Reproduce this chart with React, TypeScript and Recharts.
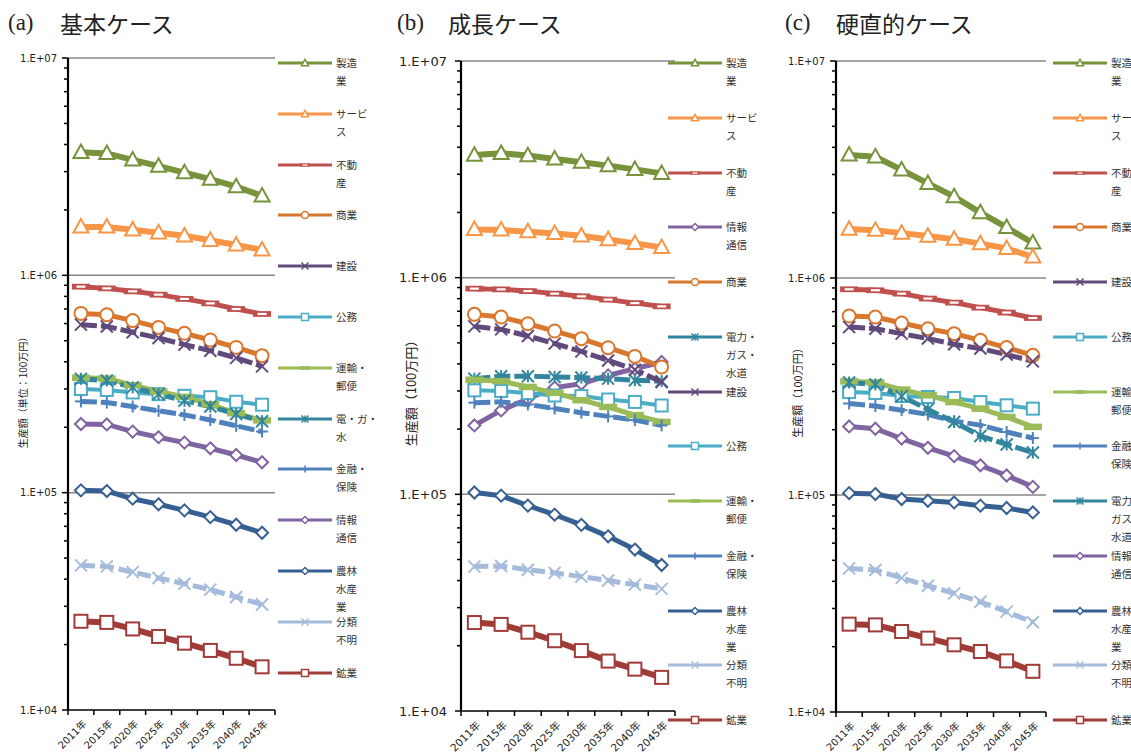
import React from 'react';
import { LineChart, Line, XAxis, YAxis, CartesianGrid } from 'recharts';

const years = ['2011年', '2015年', '2020年', '2025年', '2030年', '2035年', '2040年', '2045年'];

// (a) 基本ケース
const kihonSeizo = [3.68e6, 3.64e6, 3.40e6, 3.18e6, 2.97e6, 2.77e6, 2.56e6, 2.32e6];
const kihonService = [1.67e6, 1.67e6, 1.62e6, 1.57e6, 1.52e6, 1.45e6, 1.38e6, 1.31e6];
const kihonFudosan = [8.87e5, 8.71e5, 8.44e5, 8.15e5, 7.79e5, 7.43e5, 7.0e5, 6.64e5];
const kihonShogyo = [6.68e5, 6.59e5, 6.19e5, 5.76e5, 5.41e5, 5.04e5, 4.66e5, 4.27e5];
const kihonKensetsu = [5.93e5, 5.82e5, 5.47e5, 5.15e5, 4.8e5, 4.5e5, 4.17e5, 3.81e5];
const kihonKomu = [3.0e5, 2.97e5, 2.89e5, 2.84e5, 2.79e5, 2.75e5, 2.62e5, 2.54e5];
const kihonUnyu = [3.38e5, 3.35e5, 3.12e5, 2.92e5, 2.76e5, 2.55e5, 2.32e5, 2.15e5];
const kihonDenki = [3.34e5, 3.28e5, 3.05e5, 2.84e5, 2.65e5, 2.49e5, 2.3e5, 2.13e5];
const kihonKinyu = [2.63e5, 2.6e5, 2.49e5, 2.38e5, 2.28e5, 2.16e5, 2.03e5, 1.91e5];
const kihonJoho = [2.07e5, 2.06e5, 1.91e5, 1.8e5, 1.7e5, 1.6e5, 1.49e5, 1.38e5];
const kihonNorin = [1.025e5, 1.017e5, 9.38e4, 8.84e4, 8.29e4, 7.72e4, 7.12e4, 6.54e4];
const kihonFumei = [4.63e4, 4.58e4, 4.31e4, 4.05e4, 3.81e4, 3.58e4, 3.31e4, 3.06e4];
const kihonKogyo = [2.56e4, 2.53e4, 2.36e4, 2.18e4, 2.03e4, 1.88e4, 1.73e4, 1.58e4];

// (b) 成長ケース
const seichoSeizo = [3.68e6, 3.75e6, 3.66e6, 3.53e6, 3.41e6, 3.29e6, 3.16e6, 3.03e6];
const seichoService = [1.67e6, 1.66e6, 1.63e6, 1.6e6, 1.56e6, 1.5e6, 1.44e6, 1.38e6];
const seichoFudosan = [8.9e5, 8.83e5, 8.67e5, 8.44e5, 8.2e5, 7.92e5, 7.63e5, 7.37e5];
const seichoJoho = [2.08e5, 2.44e5, 2.76e5, 3.11e5, 3.24e5, 3.54e5, 3.8e5, 4.08e5];
const seichoShogyo = [6.77e5, 6.58e5, 6.13e5, 5.67e5, 5.23e5, 4.75e5, 4.33e5, 3.87e5];
const seichoDenki = [3.42e5, 3.51e5, 3.51e5, 3.48e5, 3.46e5, 3.42e5, 3.36e5, 3.33e5];
const seichoKensetsu = [5.96e5, 5.77e5, 5.38e5, 4.96e5, 4.57e5, 4.15e5, 3.76e5, 3.3e5];
const seichoKomu = [3.02e5, 3.0e5, 2.93e5, 2.86e5, 2.84e5, 2.74e5, 2.67e5, 2.57e5];
const seichoUnyu = [3.38e5, 3.33e5, 3.13e5, 2.94e5, 2.72e5, 2.53e5, 2.32e5, 2.16e5];
const seichoKinyu = [2.65e5, 2.67e5, 2.6e5, 2.49e5, 2.38e5, 2.29e5, 2.2e5, 2.08e5];
const seichoNorin = [1.02e5, 9.86e4, 8.87e4, 8.06e4, 7.23e4, 6.4e4, 5.56e4, 4.72e4];
const seichoFumei = [4.64e4, 4.67e4, 4.49e4, 4.34e4, 4.17e4, 4.0e4, 3.83e4, 3.66e4];
const seichoKogyo = [2.56e4, 2.51e4, 2.31e4, 2.11e4, 1.9e4, 1.7e4, 1.56e4, 1.43e4];

// (c) 硬直的ケース
const kochokuSeizo = [3.69e6, 3.62e6, 3.15e6, 2.73e6, 2.37e6, 2.0e6, 1.71e6, 1.45e6];
const kochokuService = [1.68e6, 1.66e6, 1.61e6, 1.56e6, 1.51e6, 1.44e6, 1.37e6, 1.25e6];
const kochokuFudosan = [8.87e5, 8.78e5, 8.47e5, 8.04e5, 7.7e5, 7.3e5, 6.93e5, 6.54e5];
const kochokuShogyo = [6.68e5, 6.61e5, 6.2e5, 5.84e5, 5.54e5, 5.16e5, 4.78e5, 4.4e5];
const kochokuKensetsu = [5.94e5, 5.84e5, 5.54e5, 5.26e5, 4.95e5, 4.73e5, 4.44e5, 4.13e5];
const kochokuKomu = [2.98e5, 2.95e5, 2.86e5, 2.83e5, 2.8e5, 2.68e5, 2.59e5, 2.5e5];
const kochokuUnyu = [3.34e5, 3.3e5, 3.06e5, 2.88e5, 2.68e5, 2.5e5, 2.29e5, 2.06e5];
const kochokuKinyu = [2.64e5, 2.57e5, 2.46e5, 2.35e5, 2.19e5, 2.1e5, 1.95e5, 1.83e5];
const kochokuDenki = [3.3e5, 3.23e5, 2.85e5, 2.48e5, 2.17e5, 1.87e5, 1.71e5, 1.57e5];
const kochokuJoho = [2.07e5, 2.02e5, 1.82e5, 1.65e5, 1.51e5, 1.37e5, 1.23e5, 1.09e5];
const kochokuNorin = [1.02e5, 1.01e5, 9.58e4, 9.41e4, 9.24e4, 8.93e4, 8.71e4, 8.31e4];
const kochokuFumei = [4.59e4, 4.51e4, 4.15e4, 3.82e4, 3.52e4, 3.22e4, 2.9e4, 2.59e4];
const kochokuKogyo = [2.54e4, 2.52e4, 2.35e4, 2.19e4, 2.04e4, 1.9e4, 1.72e4, 1.54e4];

// legend order + labels (with the wrapping used in the legend)
const kihonOrder = ['seizo', 'service', 'fudosan', 'shogyo', 'kensetsu', 'komu', 'unyu', 'denki', 'kinyu', 'joho', 'norin', 'fumei', 'kogyo'];
const kihonLabels = ['製造\n業', 'サービ\nス', '不動\n産', '商業', '建設', '公務', '運輸・\n郵便', '電・ガ・\n水', '金融・\n保険', '情報\n通信', '農林\n水産\n業', '分類\n不明', '鉱業'];
const seichoOrder = ['seizo', 'service', 'fudosan', 'joho', 'shogyo', 'denki', 'kensetsu', 'komu', 'unyu', 'kinyu', 'norin', 'fumei', 'kogyo'];
const seichoLabels = ['製造\n業', 'サービ\nス', '不動\n産', '情報\n通信', '商業', '電力・\nガス・\n水道', '建設', '公務', '運輸・\n郵便', '金融・\n保険', '農林\n水産\n業', '分類\n不明', '鉱業'];
const kochokuOrder = ['seizo', 'service', 'fudosan', 'shogyo', 'kensetsu', 'komu', 'unyu', 'kinyu', 'denki', 'joho', 'norin', 'fumei', 'kogyo'];
const kochokuLabels = ['製造\n業', 'サービ\nス', '不動\n産', '商業', '建設', '公務', '運輸・\n郵便', '金融・\n保険', '電力・\nガス・\n水道', '情報\n通信', '農林\n水産\n業', '分類\n不明', '鉱業'];

const yTicks = [4, 5, 6].flatMap((p) => [1, 2, 3, 4, 5, 6, 7, 8, 9].map((m) => m * Math.pow(10, p))).concat([1e7]);

const styles: Record<string, any> = {
  seizo: { color: '#77933C', width: 6, shape: 'triangle', size: 15 },
  service: { color: '#F79646', width: 6, shape: 'triangle', size: 15 },
  fudosan: { color: '#C0504D', width: 5, shape: 'dashOpen', size: 18 },
  shogyo: { color: '#D9772D', width: 5, shape: 'circle', size: 13 },
  kensetsu: { color: '#604A7B', width: 5, dash: '16 4', shape: 'x', size: 12 },
  komu: { color: '#4BACC6', width: 4, shape: 'square', size: 12 },
  unyu: { color: '#9BBB59', width: 5, shape: 'dash', size: 18 },
  denki: { color: '#31859C', width: 5, dash: '16 4', shape: 'star', size: 12 },
  kinyu: { color: '#4F81BD', width: 5, dash: '16 4', shape: 'plus', size: 12 },
  joho: { color: '#8064A2', width: 5, shape: 'diamond', size: 12 },
  norin: { color: '#376092', width: 5, shape: 'diamond', size: 12 },
  fumei: { color: '#A5BBDB', width: 5, dash: '14 5', shape: 'x', size: 12 },
  kogyo: { color: '#A03B38', width: 6, shape: 'square', size: 13 },
};

const jp = "'Noto Sans CJK JP', sans-serif";
const axisFont = "'DejaVu Sans', 'Noto Sans CJK JP', sans-serif";

function Marker({ shape, cx, cy, size, color, sw }: any) {
  const h = size / 2;
  if (cx == null || cy == null) return null;
  switch (shape) {
    case 'triangle':
      return <polygon points={`${cx},${cy - h * 1.05} ${cx - h},${cy + h * 0.75} ${cx + h},${cy + h * 0.75}`} fill="#fff" stroke={color} strokeWidth={sw} />;
    case 'circle':
      return <circle cx={cx} cy={cy} r={h} fill="#fff" stroke={color} strokeWidth={sw} />;
    case 'square':
      return <rect x={cx - h} y={cy - h} width={size} height={size} fill="#fff" stroke={color} strokeWidth={sw} />;
    case 'diamond':
      return <polygon points={`${cx},${cy - h} ${cx + h},${cy} ${cx},${cy + h} ${cx - h},${cy}`} fill="#fff" stroke={color} strokeWidth={sw} />;
    case 'x':
      return (
        <g stroke={color} strokeWidth={sw}>
          <line x1={cx - h} y1={cy - h} x2={cx + h} y2={cy + h} />
          <line x1={cx - h} y1={cy + h} x2={cx + h} y2={cy - h} />
        </g>
      );
    case 'star':
      return (
        <g stroke={color} strokeWidth={sw}>
          <line x1={cx - h} y1={cy - h} x2={cx + h} y2={cy + h} />
          <line x1={cx - h} y1={cy + h} x2={cx + h} y2={cy - h} />
          <line x1={cx} y1={cy - h} x2={cx} y2={cy + h} />
        </g>
      );
    case 'plus':
      return (
        <g stroke={color} strokeWidth={sw}>
          <line x1={cx - h} y1={cy} x2={cx + h} y2={cy} />
          <line x1={cx} y1={cy - h} x2={cx} y2={cy + h} />
        </g>
      );
    case 'dash':
      return <rect x={cx - h} y={cy - size * 0.18} width={size} height={size * 0.36} fill={color} />;
    case 'dashOpen':
      return (
        <g>
          <rect x={cx - h} y={cy - size * 0.16} width={size} height={size * 0.32} fill={color} />
          <rect x={cx - size * 0.25} y={cy - size * 0.06} width={size * 0.5} height={size * 0.12} fill="#fff" />
        </g>
      );
    default:
      return null;
  }
}

function Legend({ x, y0, step, order, labels }: any) {
  return (
    <>
      {order.map((k: string, i: number) => {
        const st = styles[k];
        const cy = y0 + step * i;
        return (
          <div key={k} style={{ position: 'absolute', left: x, top: cy - 9, display: 'flex', alignItems: 'flex-start' }}>
            <svg width={54} height={18} style={{ flex: 'none' }}>
              <line x1={0} x2={54} y1={9} y2={9} stroke={st.color} strokeWidth={3} />
              <Marker shape={st.shape} cx={27} cy={9} size={st.shape === 'dash' || st.shape === 'dashOpen' ? 10 : 7} color={st.color} sw={1.5} />
            </svg>
            <div style={{ marginLeft: 4, fontSize: 10.5, lineHeight: '18px', color: '#333', whiteSpace: 'pre', fontFamily: jp }}>{labels[i]}</div>
          </div>
        );
      })}
    </>
  );
}

function Panel({ cfg }: any) {
  const H = 756;
  const data = years.map((year, i) => {
    const row: any = { year };
    cfg.order.forEach((k: string) => { row[k] = cfg.values[k][i]; });
    return row;
  });
  const pw = cfg.plotRight - cfg.plotLeft;
  const half = pw / 16;
  const axisX = cfg.plotLeft;

  const yTick = (p: any) => {
    const v = p.payload.value;
    const lg = Math.log10(v);
    const major = Math.abs(lg - Math.round(lg)) < 1e-9;
    const y = p.y;
    return (
      <g>
        <line x1={axisX - (major ? 6 : 4)} x2={axisX} y1={y} y2={y} stroke="#000" strokeWidth={1.5} />
        {major && (
          <text x={axisX - cfg.tickGap} y={y} textAnchor="end" dominantBaseline="central" fontSize={cfg.yFont} fontFamily={axisFont} fill="#222">
            {'1.E+0' + Math.round(lg)}
          </text>
        )}
      </g>
    );
  };

  const xTick = (p: any) => {
    const x = p.x;
    const yb = cfg.plotBottom;
    const last = p.payload.value === years[years.length - 1];
    const tx = x + 4;
    const ty = yb + 12;
    return (
      <g>
        <line x1={x - half} x2={x - half} y1={yb} y2={yb + 5} stroke="#000" strokeWidth={1.5} />
        {last && <line x1={x + half} x2={x + half} y1={yb} y2={yb + 5} stroke="#000" strokeWidth={1.5} />}
        <text x={tx} y={ty} transform={`rotate(-45 ${tx} ${ty})`} textAnchor="end" dominantBaseline="central" fontSize={cfg.xFont} fontFamily={axisFont} fill="#222">
          {p.payload.value}
        </text>
      </g>
    );
  };

  const yLabel = () => (
    <text
      x={cfg.yLabelX}
      y={390}
      transform={`rotate(-90 ${cfg.yLabelX} 390)`}
      textAnchor="middle"
      dominantBaseline="central"
      fontSize={cfg.yLabelFont}
      fontFamily={jp}
      fill="#222"
    >
      {cfg.yLabel}
    </text>
  );

  return (
    <div style={{ position: 'absolute', left: cfg.left, top: 0, width: cfg.width, height: H }}>
      <div style={{ position: 'absolute', left: cfg.tagX, top: 8, fontSize: 23, lineHeight: '30px', fontFamily: "'Liberation Serif', serif", color: '#222' }}>{cfg.tag}</div>
      <div style={{ position: 'absolute', left: cfg.titleX, top: 8, fontSize: 23, lineHeight: '30px', fontFamily: jp, color: '#222', whiteSpace: 'nowrap' }}>{cfg.title}</div>
      <div style={{ position: 'absolute', left: 0, top: 0 }}>
        <LineChart width={cfg.width} height={H} data={data} margin={{ top: cfg.plotTop, right: cfg.width - cfg.plotRight, left: 0, bottom: 0 }}>
          <CartesianGrid vertical={false} horizontalValues={[1e5, 1e6, 1e7]} stroke="#878787" strokeWidth={1.5} />
          <XAxis
            dataKey="year"
            type="category"
            interval={0}
            height={H - cfg.plotBottom}
            padding={{ left: half, right: half }}
            axisLine={{ stroke: '#000', strokeWidth: 1.5 }}
            tickLine={false}
            tick={xTick}
          />
          <YAxis
            type="number"
            scale="log"
            domain={[1e4, 1e7]}
            ticks={yTicks}
            interval={0}
            allowDataOverflow
            width={cfg.plotLeft}
            axisLine={{ stroke: '#000', strokeWidth: 2.2 }}
            tickLine={false}
            tick={yTick}
            label={{ value: cfg.yLabel, content: yLabel }}
          />
          {cfg.order.map((k: string) => {
            const st = styles[k];
            return (
              <Line
                key={k}
                type="linear"
                dataKey={k}
                name={k}
                stroke={st.color}
                strokeWidth={st.width}
                strokeDasharray={st.dash}
                dot={(p: any) => <Marker key={`${k}-${p.index}`} shape={st.shape} cx={p.cx} cy={p.cy} size={st.size} color={st.color} sw={2} />}
                activeDot={false}
                isAnimationActive={false}
              />
            );
          })}
        </LineChart>
      </div>
      <Legend x={cfg.legendX} y0={63} step={cfg.legendStep} order={cfg.order} labels={cfg.labels} />
    </div>
  );
}

const panels = [
  {
    left: 0, width: 380, plotLeft: 68, plotRight: 275, plotTop: 58, plotBottom: 710,
    tag: '(a)', tagX: 8, title: '基本ケース', titleX: 60,
    yFont: 10, xFont: 10, tickGap: 11, yLabel: '生産額（単位：100万円）', yLabelX: 22, yLabelFont: 10,
    legendX: 278, legendStep: 50.8, order: kihonOrder, labels: kihonLabels,
    values: {
      seizo: kihonSeizo, service: kihonService, fudosan: kihonFudosan, shogyo: kihonShogyo, kensetsu: kihonKensetsu,
      komu: kihonKomu, unyu: kihonUnyu, denki: kihonDenki, kinyu: kihonKinyu, joho: kihonJoho, norin: kihonNorin,
      fumei: kihonFumei, kogyo: kihonKogyo,
    },
  },
  {
    left: 380, width: 380, plotLeft: 81, plotRight: 295, plotTop: 61, plotBottom: 711,
    tag: '(b)', tagX: 17, title: '成長ケース', titleX: 68,
    yFont: 13, xFont: 10.5, tickGap: 14, yLabel: '生産額（100万円）', yLabelX: 30, yLabelFont: 13,
    legendX: 288, legendStep: 54.75, order: seichoOrder, labels: seichoLabels,
    values: {
      seizo: seichoSeizo, service: seichoService, fudosan: seichoFudosan, joho: seichoJoho, shogyo: seichoShogyo,
      denki: seichoDenki, kensetsu: seichoKensetsu, komu: seichoKomu, unyu: seichoUnyu, kinyu: seichoKinyu,
      norin: seichoNorin, fumei: seichoFumei, kogyo: seichoKogyo,
    },
  },
  {
    left: 760, width: 371, plotLeft: 76, plotRight: 286, plotTop: 61, plotBottom: 712,
    tag: '(c)', tagX: 25, title: '硬直的ケース', titleX: 76,
    yFont: 10, xFont: 10, tickGap: 11, yLabel: '生産額（100万円）', yLabelX: 37, yLabelFont: 11,
    legendX: 293, legendStep: 54.75, order: kochokuOrder, labels: kochokuLabels,
    values: {
      seizo: kochokuSeizo, service: kochokuService, fudosan: kochokuFudosan, shogyo: kochokuShogyo,
      kensetsu: kochokuKensetsu, komu: kochokuKomu, unyu: kochokuUnyu, kinyu: kochokuKinyu, denki: kochokuDenki,
      joho: kochokuJoho, norin: kochokuNorin, fumei: kochokuFumei, kogyo: kochokuKogyo,
    },
  },
];

export default function App() {
  return (
    <div style={{ position: 'absolute', left: 0, top: 0, width: 1131, height: 756, overflow: 'hidden', background: '#fff' }}>
      {panels.map((cfg) => (
        <Panel key={cfg.tag} cfg={cfg} />
      ))}
    </div>
  );
}
